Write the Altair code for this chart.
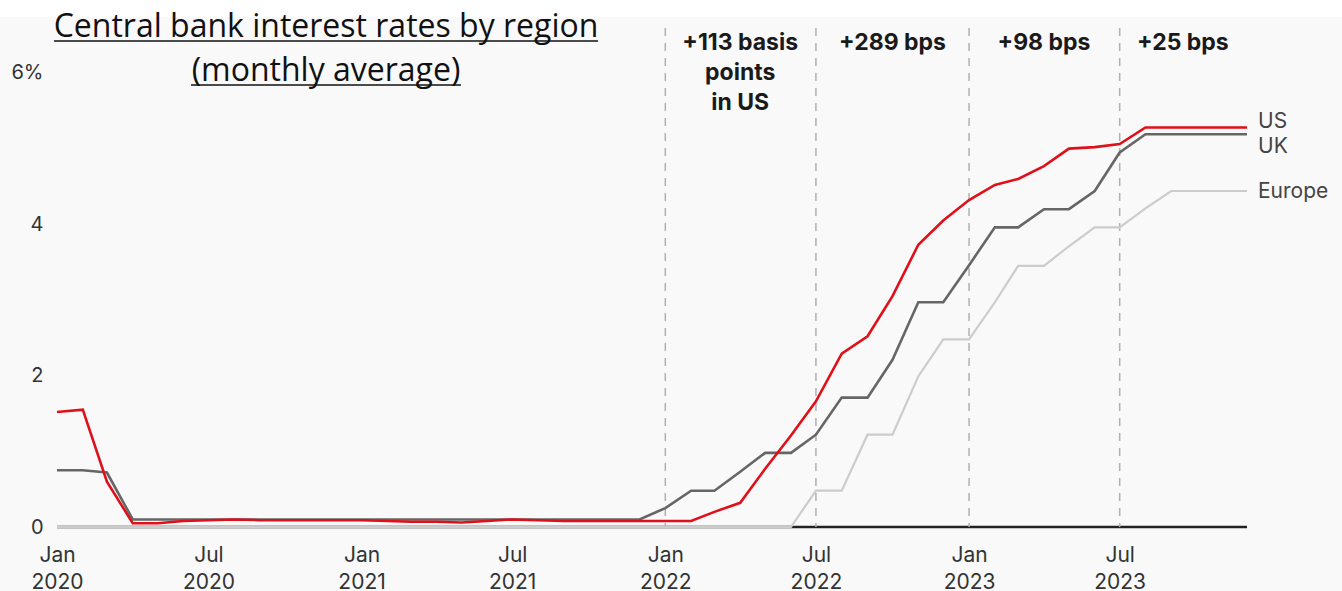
import altair as alt
import pandas as pd

# Monthly averages, Jan 2020 - Dec 2023 (percent)
months = pd.date_range("2020-01-01", "2023-12-01", freq="MS").strftime("%Y-%m-%dT00:00:00").tolist()

us = [1.52, 1.55, 0.60, 0.05, 0.05, 0.08, 0.09, 0.10, 0.09, 0.09, 0.09, 0.09,
      0.09, 0.08, 0.07, 0.07, 0.06, 0.08, 0.10, 0.09, 0.08, 0.08, 0.08, 0.08,
      0.08, 0.08, 0.20, 0.32, 0.77, 1.21, 1.66, 2.29, 2.52, 3.05, 3.73, 4.05,
      4.32, 4.52, 4.60, 4.77, 5.00, 5.02, 5.06, 5.28, 5.28, 5.28, 5.28, 5.28]

uk = [0.75, 0.75, 0.72, 0.10, 0.10, 0.10, 0.10, 0.10, 0.10, 0.10, 0.10, 0.10,
      0.10, 0.10, 0.10, 0.10, 0.10, 0.10, 0.10, 0.10, 0.10, 0.10, 0.10, 0.10,
      0.25, 0.48, 0.48, 0.73, 0.98, 0.98, 1.22, 1.71, 1.71, 2.21, 2.97, 2.97,
      3.46, 3.96, 3.96, 4.20, 4.20, 4.44, 4.95, 5.19, 5.19, 5.19, 5.19, 5.19]

europe = [0.0] * 30 + [0.48, 0.48, 1.22, 1.22, 1.99, 2.48,
                       2.48, 2.97, 3.45, 3.45, 3.71, 3.96, 3.96, 4.21, 4.44, 4.44, 4.44, 4.44]

regions = ["US", "UK", "Europe"]
colors = ["#e0101a", "#666666", "#cccccc"]
widths = [2.6, 2.6, 2.2]
label_dy = [-5, 13, 1]

# Period boundaries and the rise in US rates over each period
bounds = ["2022-01-01T00:00:00", "2022-07-01T00:00:00", "2023-01-01T00:00:00", "2023-07-01T00:00:00"]
note_dates = ["2022-04-01T00:00:00", "2022-10-01T00:00:00", "2023-04-01T00:00:00", "2023-09-15T00:00:00"]
note_texts = ["+113 basis\npoints\nin US", "+289 bps", "+98 bps", "+25 bps"]

x_ticks = ["2020-01-01T00:00:00", "2020-07-01T00:00:00", "2021-01-01T00:00:00", "2021-07-01T00:00:00",
           "2022-01-01T00:00:00", "2022-07-01T00:00:00", "2023-01-01T00:00:00", "2023-07-01T00:00:00"]

title_texts = ["Central bank interest rates by region", "(monthly average)"]

series = {"US": us, "UK": uk, "Europe": europe}

W, H = 1190, 507
FONT = "Inter"

x_scale = alt.Scale(domain=[months[0], months[-1]])
y_scale = alt.Scale(domain=[0, 6.7], nice=False)

x_axis = alt.Axis(
    values=[pd.Timestamp(t).to_pydatetime() for t in x_ticks],
    labelExpr="[timeFormat(datum.value, '%b'), timeFormat(datum.value, '%Y')]",
    labelFont=FONT, labelFontSize=21, labelColor="#333333", labelLineHeight=27,
    labelPadding=17, ticks=False, domain=False, grid=False, title=None,
    labelAngle=0, labelAlign="center", labelBaseline="top", labelFlush=False,
)
y_axis = alt.Axis(
    values=[0, 2, 4, 6],
    labelExpr="datum.value == 6 ? '6%' : format(datum.value, 'd')",
    labelFont=FONT, labelFontSize=20, labelColor="#333333", labelPadding=14,
    ticks=False, domain=False, grid=False, title=None,
)

# white strip above the chart panel
top_strip = alt.Chart(pd.DataFrame({"a": [0]})).mark_rect(color="white").encode(
    x=alt.value(-57), x2=alt.value(W + 95), y=alt.value(-20), y2=alt.value(-3)
)

zero_rule = alt.Chart(pd.DataFrame({"rate": [0]})).mark_rule(color="#222222", strokeWidth=2.5).encode(
    y=alt.Y("rate:Q", scale=y_scale, axis=y_axis),
    x=alt.value(0), x2=alt.value(W),
)

dashes = alt.Chart(pd.DataFrame({"month": bounds})).mark_rule(
    color="#b0b0b0", strokeWidth=1.5, strokeDash=[8, 7]
).encode(
    x=alt.X("month:T", scale=x_scale, axis=x_axis),
    y=alt.value(8), y2=alt.value(H),
)

# one line per region; Europe drawn first, US on top
line_layers = []
for r in ["Europe", "UK", "US"]:
    i = regions.index(r)
    d = pd.DataFrame({"month": months, "rate": series[r]})
    line_layers.append(
        alt.Chart(d).mark_line(color=colors[i], strokeWidth=widths[i], strokeJoin="miter").encode(
            x=alt.X("month:T", scale=x_scale),
            y=alt.Y("rate:Q", scale=y_scale),
        )
    )

label_layers = []
for i, r in enumerate(regions):
    d = pd.DataFrame({"month": [months[-1]], "rate": [series[r][-1]], "region": [r]})
    label_layers.append(
        alt.Chart(d).mark_text(
            align="left", baseline="middle", dx=11, dy=label_dy[i],
            font=FONT, fontSize=21, color="#444444",
        ).encode(
            x=alt.X("month:T", scale=x_scale),
            y=alt.Y("rate:Q", scale=y_scale),
            text="region:N",
        )
    )

notes = alt.Chart(pd.DataFrame({"month": note_dates, "text": note_texts})).mark_text(
    align="center", baseline="middle", font=FONT, fontWeight="bold", fontSize=23,
    color="#1a1a1a", lineBreak="\n", lineHeight=30,
).encode(
    x=alt.X("month:T", scale=x_scale),
    y=alt.value(23),
    text="text:N",
)

title1 = alt.Chart(pd.DataFrame({"text": [title_texts[0]]})).mark_text(
    align="center", baseline="alphabetic", font="Open Sans", fontSize=32, color="#111111"
).encode(x=alt.value(326 - 57), y=alt.value(17), text="text:N")
title2 = alt.Chart(pd.DataFrame({"text": [title_texts[1]]})).mark_text(
    align="center", baseline="alphabetic", font="Open Sans", fontSize=32, color="#111111"
).encode(x=alt.value(326 - 57), y=alt.value(61), text="text:N")
underline1 = alt.Chart(pd.DataFrame({"a": [0]})).mark_rule(color="#111111", strokeWidth=1.6).encode(
    x=alt.value(54 - 57), x2=alt.value(598 - 57), y=alt.value(21)
)
underline2 = alt.Chart(pd.DataFrame({"a": [0]})).mark_rule(color="#111111", strokeWidth=1.6).encode(
    x=alt.value(191 - 57), x2=alt.value(461 - 57), y=alt.value(65)
)

chart = alt.layer(
    top_strip, zero_rule, dashes, *line_layers, *label_layers, notes,
    title1, title2, underline1, underline2
).properties(
    width=W, height=H,
    autosize=alt.AutoSizeParams(type="none"),
    padding={"left": 57, "top": 20, "right": 95, "bottom": 64},
    background="#f9f9f9",
).configure_view(stroke=None, clip=False)

chart.save("out.html", embed_options={"renderer": "svg", "actions": False})
